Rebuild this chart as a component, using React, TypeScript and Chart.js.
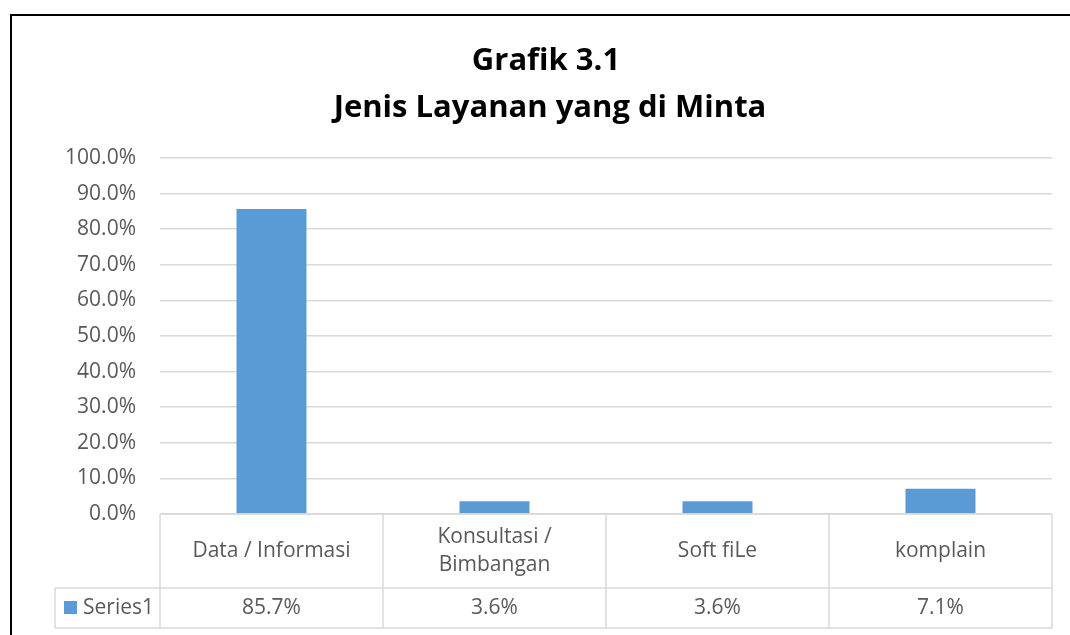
import React, { useEffect, useRef } from "react";
import { Chart, registerables } from "chart.js";

Chart.register(...registerables);

const titleLines = ["Grafik 3.1", "Jenis Layanan yang di Minta"];
const categories = ["Data / Informasi", "Konsultasi / Bimbangan", "Soft fiLe", "komplain"];
const categoryLines = [["Data / Informasi"], ["Konsultasi /", "Bimbangan"], ["Soft fiLe"], ["komplain"]];
const seriesName = "Series1";
const values = [85.7, 3.6, 3.6, 7.1];
const yMin = 0;
const yMax = 100;
const yStep = 10;

const FONT = "'Open Sans', Lato, sans-serif";
const GRID = "#d9d9d9";
const TEXT = "#595959";
const BAR = "#5b9bd5";

const frameAndTable = {
  id: "frameAndTable",
  beforeDraw(chart: any) {
    const ctx = chart.ctx;
    ctx.save();
    ctx.fillStyle = "#ffffff";
    ctx.fillRect(0, 0, chart.width, chart.height);
    ctx.restore();
  },
  afterDraw(chart: any) {
    const ctx = chart.ctx;
    const area = chart.chartArea;
    const xs = chart.scales.x;
    const n = categories.length;
    const colW = (area.right - area.left) / n;
    const row1Top = area.bottom;
    const row1Bottom = row1Top + 74;
    const row2Bottom = row1Bottom + 40;
    const legendLeft = 55;

    ctx.save();
    // frame
    ctx.strokeStyle = "#000000";
    ctx.lineWidth = 2;
    ctx.beginPath();
    ctx.moveTo(11, chart.height + 5);
    ctx.lineTo(11, 15);
    ctx.lineTo(chart.width + 5, 15);
    ctx.stroke();

    // title
    ctx.fillStyle = "#000000";
    ctx.font = `bold 31px ${FONT}`;
    ctx.textAlign = "center";
    ctx.textBaseline = "alphabetic";
    ctx.fillText(titleLines[0], 546, 70);
    ctx.fillText(titleLines[1], 550, 117);

    // table lines
    ctx.strokeStyle = GRID;
    ctx.lineWidth = 1.5;
    ctx.beginPath();
    ctx.moveTo(area.left, row1Top);
    ctx.lineTo(area.right, row1Top);
    ctx.moveTo(legendLeft, row1Bottom);
    ctx.lineTo(area.right, row1Bottom);
    ctx.moveTo(legendLeft, row2Bottom);
    ctx.lineTo(area.right, row2Bottom);
    ctx.moveTo(legendLeft, row1Bottom);
    ctx.lineTo(legendLeft, row2Bottom);
    for (let i = 0; i <= n; i++) {
      const bx = i < n ? xs.getPixelForValue(i) - colW / 2 : xs.getPixelForValue(n - 1) + colW / 2;
      ctx.moveTo(bx, row1Top);
      ctx.lineTo(bx, row2Bottom);
    }
    ctx.stroke();

    // texts
    ctx.fillStyle = TEXT;
    ctx.font = `21px ${FONT}`;
    ctx.textAlign = "center";
    ctx.textBaseline = "middle";
    const lh = 28;
    for (let i = 0; i < n; i++) {
      const cx = xs.getPixelForValue(i);
      const lines = categoryLines[i];
      const cy = (row1Top + row1Bottom) / 2;
      lines.forEach((l, k) => {
        ctx.fillText(l, cx, cy + (k - (lines.length - 1) / 2) * lh);
      });
      ctx.fillText(values[i].toFixed(1) + "%", cx, (row1Bottom + row2Bottom) / 2);
    }
    // legend key
    const ly = (row1Bottom + row2Bottom) / 2;
    ctx.fillStyle = BAR;
    ctx.fillRect(64, ly - 7, 13, 13);
    ctx.fillStyle = TEXT;
    ctx.textAlign = "left";
    ctx.fillText(seriesName, 83, ly);
    ctx.restore();
  },
};

export default function App() {
  const ref = useRef<HTMLCanvasElement>(null);
  useEffect(() => {
    const chart = new Chart(ref.current!, {
      type: "bar",
      data: {
        labels: categories,
        datasets: [
          {
            label: seriesName,
            data: values,
            backgroundColor: BAR,
            barPercentage: 0.314,
            categoryPercentage: 1,
          },
        ],
      },
      options: {
        responsive: false,
        animation: false,
        layout: { padding: { left: 0, top: 158, right: 18, bottom: 121 } },
        plugins: { legend: { display: false }, title: { display: false }, tooltip: { enabled: false } },
        scales: {
          x: { display: false },
          y: {
            min: yMin,
            max: yMax,
            afterFit: (s: any) => {
              s.width = 160;
            },
            border: { display: false },
            grid: { color: GRID, lineWidth: 1.5, drawTicks: false },
            ticks: {
              stepSize: yStep,
              padding: 24,
              color: TEXT,
              font: { family: FONT, size: 21 },
              callback: (v: any) => Number(v).toFixed(1) + "%",
            },
          },
        },
      },
      plugins: [frameAndTable],
    });
    return () => chart.destroy();
  }, []);
  return (
    <div style={{ position: "absolute", left: 0, top: 0, width: 1070, height: 635 }}>
      <canvas ref={ref} width={1070} height={635} />
    </div>
  );
}
